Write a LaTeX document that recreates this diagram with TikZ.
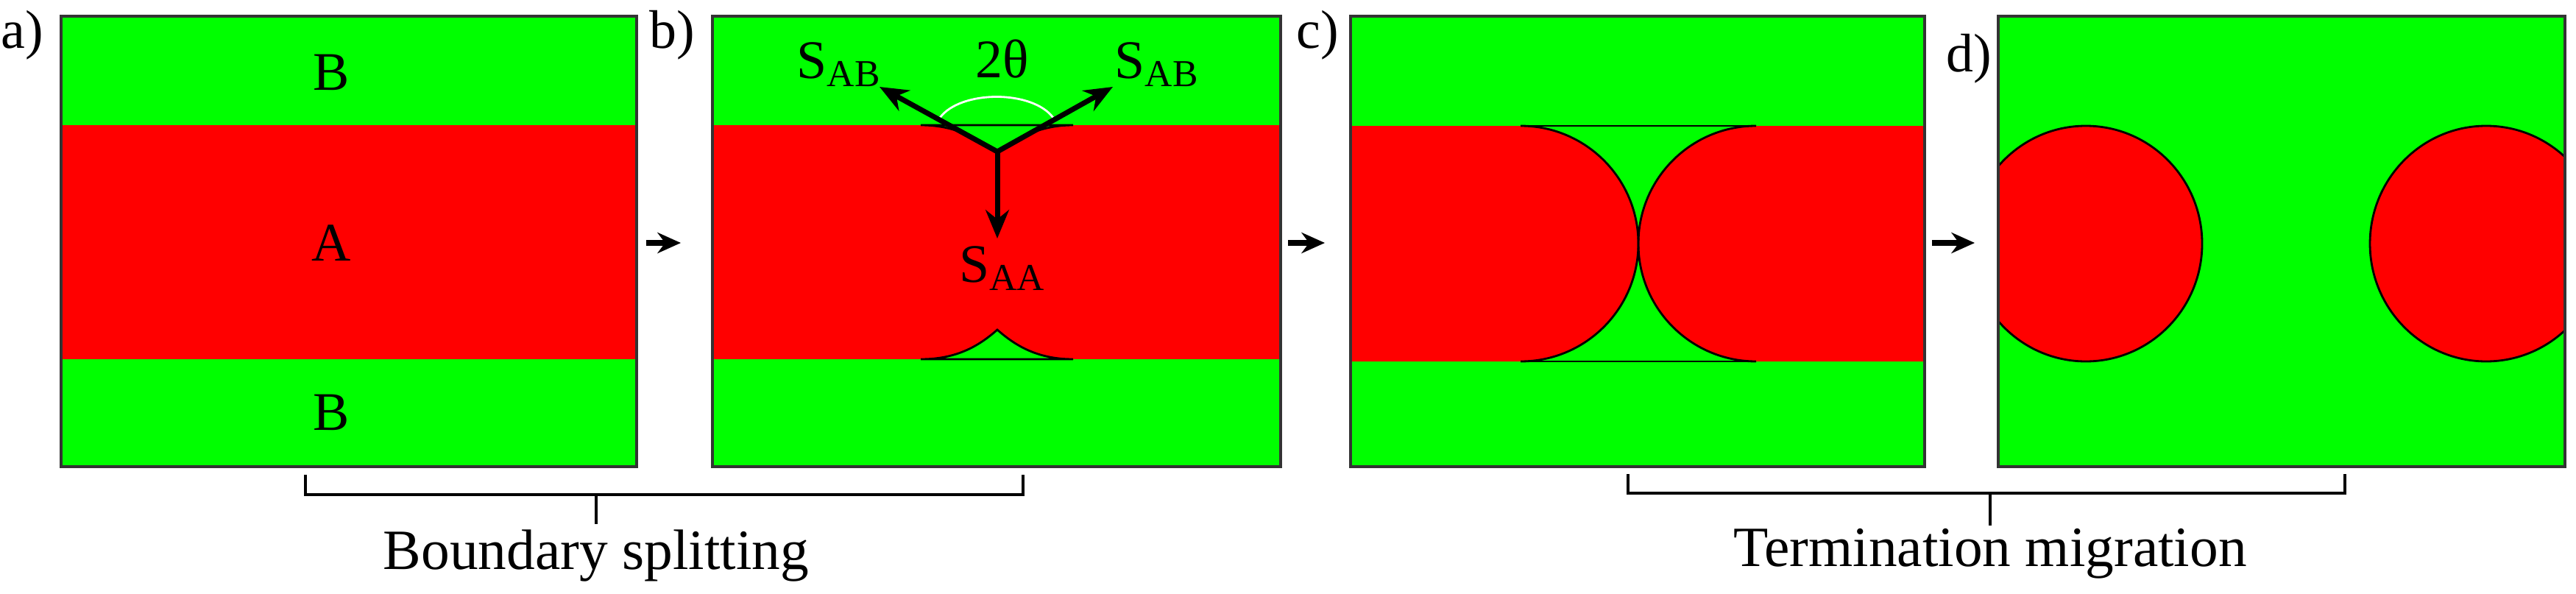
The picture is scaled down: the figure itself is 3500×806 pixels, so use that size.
\documentclass[tikz,border=0pt]{standalone}
\usepackage{fontspec}
\setmainfont{Liberation Serif}
\usetikzlibrary{arrows.meta}
\begin{document}
\begin{tikzpicture}[x=0.01cm,y=-0.01cm,
  lbl/.style={font=\fontsize{21}{24}\selectfont, inner sep=0pt},
  big/.style={font=\fontsize{22}{26}\selectfont, inner sep=0pt},
  frame/.style={draw=black!80, line width=1.2pt},
  gr/.style={fill={rgb,255:red,0;green,255;blue,0}},
  rd/.style={fill={rgb,255:red,255;green,0;blue,0}},
  stepar/.style={-{Stealth[length=9pt,width=8pt]}, line width=2pt},
  vec/.style={-{Stealth[length=11pt,width=9pt]}, line width=2pt},
  brace/.style={line width=1.2pt}]
\useasboundingbox (0,0) rectangle (3500,806);
% panel a
\fill[gr] (83,22) rectangle (865,634);
\fill[rd] (83,170) rectangle (865,488);
\draw[frame] (83,22) rectangle (865,634);
\node[lbl] (la) at (30,48) {a)};
\node[lbl] (b1) at (450,98) {B};
\node[lbl] (aa) at (450,330) {A};
\node[lbl] (b2) at (450,560) {B};
% panel b
\fill[gr] (968,22) rectangle (1740,634);
\fill[rd] (968,170) rectangle (1740,488);
\fill[gr] (1251,170) .. controls (1300,170) and (1330,190) .. (1355,206) .. controls (1380,190) and (1410,170) .. (1458,170) -- cycle;
\draw[line width=0.8pt] (1251,170) .. controls (1300,170) and (1330,190) .. (1355,206) .. controls (1380,190) and (1410,170) .. (1458,170) -- cycle;
\fill[gr] (1251,488) .. controls (1300,488) and (1330,470) .. (1355,448) .. controls (1380,470) and (1410,488) .. (1458,488) -- cycle;
\draw[line width=0.8pt] (1251,488) .. controls (1300,488) and (1330,470) .. (1355,448) .. controls (1380,470) and (1410,488) .. (1458,488) -- cycle;
\draw[white, line width=0.8pt] (1277,160) .. controls (1305,122) and (1403,122) .. (1431,160);
\draw[frame] (968,22) rectangle (1740,634);
\node[lbl] (lb) at (913,48) {b)};
\coordinate (j) at (1355,206);
\coordinate (tl) at (1195,118);
\coordinate (tr) at (1512,118);
\coordinate (td) at (1355,324);
\draw[vec] (j) -- (tl);
\draw[vec] (j) -- (tr);
\draw[vec] (j) -- (td);
\node[lbl] (sab1) at (1140,88) {S\textsubscript{AB}};
\node[lbl] (sab2) at (1572,88) {S\textsubscript{AB}};
\node[lbl] (th) at (1362,80) {2θ};
\node[lbl] (saa) at (1362,365) {S\textsubscript{AA}};
% panel c
\fill[gr] (1835,22) rectangle (2615,634);
\fill[rd] (1835,171) -- (2066,171) arc[start angle=-90,end angle=90,x radius=160,y radius=160] -- (1835,491) -- cycle;
\fill[rd] (2615,171) -- (2386,171) arc[start angle=270,end angle=90,x radius=160,y radius=160] -- (2615,491) -- cycle;
\draw[line width=0.8pt] (2066,171) arc[start angle=-90,end angle=90,x radius=160,y radius=160];
\draw[line width=0.8pt] (2386,171) arc[start angle=270,end angle=90,x radius=160,y radius=160];
\draw[line width=0.8pt] (2066,171) -- (2386,171) (2066,491) -- (2386,491);
\draw[frame] (1835,22) rectangle (2615,634);
\node[lbl] (lc) at (1790,48) {c)};
% panel d
\fill[gr] (2715,22) rectangle (3485,634);
\begin{scope}
\clip (2715,22) rectangle (3485,634);
\draw[rd, line width=0.8pt] (2834,331) ellipse[x radius=158, y radius=160];
\draw[rd, line width=0.8pt] (3378,331) ellipse[x radius=158, y radius=160];
\end{scope}
\draw[frame] (2715,22) rectangle (3485,634);
\node[lbl] (ld) at (2675,80) {d)};
% step arrows
\coordinate (s1a) at (878,330); \coordinate (s1b) at (925,330);
\coordinate (s2a) at (1750,330); \coordinate (s2b) at (1800,330);
\coordinate (s3a) at (2625,330); \coordinate (s3b) at (2683,330);
\draw[stepar] (s1a) -- (s1b);
\draw[stepar] (s2a) -- (s2b);
\draw[stepar] (s3a) -- (s3b);
% braces
\coordinate (br1) at (810,712);
\draw[brace] (415,645) -- (415,672) -- (1390,672) -- (1390,645);
\draw[brace] (810,672) -- (br1);
\node[big] (t1) at (810,755) {Boundary splitting};
\coordinate (br2) at (2704,714);
\draw[brace] (2212,644) -- (2212,670) -- (3186,670) -- (3186,644);
\draw[brace] (2704,670) -- (br2);
\node[big] (t2) at (2704,752) {Termination migration};
\end{tikzpicture}
\end{document}
